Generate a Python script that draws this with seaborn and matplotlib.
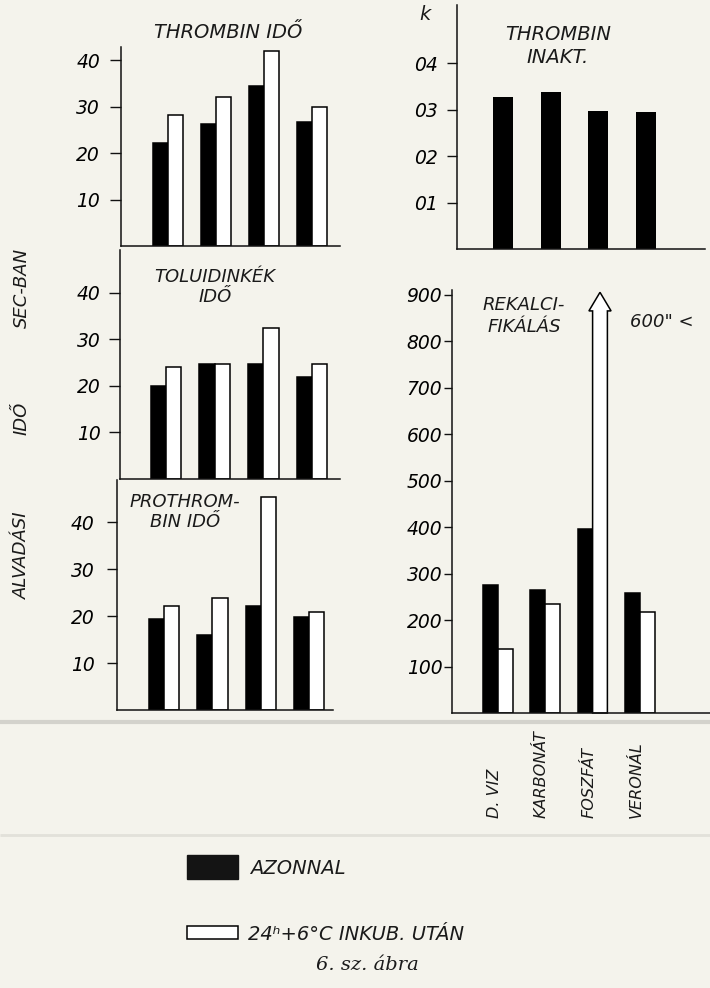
import numpy as np
import pandas as pd
import seaborn as sns
import matplotlib.pyplot as plt
from matplotlib.patches import Rectangle, FancyArrow

# csoportok (a rekalcifikalas panel alatt)
csoportok = ["D. VIZ", "KARBONÁT", "FOSZFÁT", "VERONÁL"]
AZ = "AZONNAL"
UT = "24ʰ+6°C INKUB. UTÁN"

# leolvasott ertekek
thrombin_azonnal = [22.2, 26.2, 34.4, 26.7]
thrombin_utan = [28.2, 32.0, 41.9, 29.9]
inakt_k = [0.327, 0.338, 0.297, 0.295]
toluidin_azonnal = [20.0, 24.7, 24.7, 21.9]
toluidin_utan = [24.1, 24.7, 32.5, 24.7]
prothrombin_azonnal = [19.3, 16.0, 22.2, 19.8]
prothrombin_utan = [22.2, 23.9, 45.4, 20.8]
rekalc_azonnal = [275, 265, 395, 258]
rekalc_utan = [138, 235, 905, 218]   # FOSZFAT: 600" < , nyillal jelolve

ido_ticks = [10, 20, 30, 40]
k_ticks = [0.1, 0.2, 0.3, 0.4]
k_labels = ["01", "02", "03", "04"]
rekalc_ticks = [100, 200, 300, 400, 500, 600, 700, 800, 900]

plt.rcParams['font.family'] = ['DejaVu Sans']
plt.rcParams['font.style'] = 'oblique'
plt.rcParams['text.color'] = '#1a1a1a'

W, H = 710, 988
BG = '#f4f3ec'
fig = plt.figure(figsize=(W / 100, H / 100), dpi=100, facecolor=BG)

ann = fig.add_axes([0, 0, 1, 1])
ann.set_xlim(0, W)
ann.set_ylim(H, 0)
ann.axis('off')


def px_axes(left, top, right, bottom):
    return fig.add_axes([left / W, 1 - bottom / H, (right - left) / W, (bottom - top) / H])


def long_df(a, b):
    return pd.DataFrame({"csoport": csoportok * 2,
                         "minta": [AZ] * 4 + [UT] * 4,
                         "ertek": a + b})


def bar_pair(ax, a, b):
    sns.barplot(data=long_df(a, b), x="csoport", y="ertek", hue="minta",
                order=csoportok, hue_order=[AZ, UT],
                palette={AZ: "black", UT: "white"}, saturation=1,
                width=0.625, edgecolor="black", linewidth=1.1,
                errorbar=None, legend=False, ax=ax)


def style(ax, xlim, ylim, ticks, labels, ticklen, pad):
    ax.set_facecolor('none')
    ax.set_xlim(xlim)
    ax.set_ylim(ylim)
    ax.set_xticks([])
    ax.set_yticks(ticks, labels)
    ax.set_xlabel("")
    ax.set_ylabel("")
    for s in ["top", "right"]:
        ax.spines[s].set_visible(False)
    for s in ["left", "bottom"]:
        ax.spines[s].set_linewidth(1.1)
        ax.spines[s].set_color('#111111')
    ax.tick_params(axis='y', length=ticklen, width=1.0, pad=pad,
                   labelsize=13.5, color='#111111')


# THROMBIN IDO
ax1 = px_axes(121, 47, 340, 246)
bar_pair(ax1, thrombin_azonnal, thrombin_utan)
style(ax1, (-0.98, 3.58), (0, 42.8), ido_ticks, [str(t) for t in ido_ticks], 8, 7)

# THROMBIN INAKT.
ax2 = px_axes(457, 5, 705, 249)
sns.barplot(x=csoportok, y=inakt_k, color="black", saturation=1, width=0.42,
            errorbar=None, ax=ax2)
style(ax2, (-0.97, 4.25), (0, 0.525), k_ticks, k_labels, 7, 7)

# TOLUIDINKEK IDO
ax3 = px_axes(120, 250, 340, 479)
bar_pair(ax3, toluidin_azonnal, toluidin_utan)
style(ax3, (-0.94, 3.57), (0, 49.2), ido_ticks, [str(t) for t in ido_ticks], 8, 6)

# PROTHROMBIN IDO
ax4 = px_axes(117, 480, 333, 710)
bar_pair(ax4, prothrombin_azonnal, prothrombin_utan)
style(ax4, (-0.98, 3.5), (0, 49), ido_ticks, [str(t) for t in ido_ticks], 7, 9)

# REKALCIFIKALAS
ax5 = px_axes(452, 290, 710, 713)
bar_pair(ax5, rekalc_azonnal, rekalc_utan)
style(ax5, (-0.97, 4.48), (0, 910), rekalc_ticks, [str(t) for t in rekalc_ticks], 6, 1)

# FOSZFAT utani ertek: nyil a bar helyett
top = max(rekalc_utan)
for p in list(ax5.patches):
    if abs(p.get_height() - top) < 1e-6:
        cx = p.get_x() + p.get_width() / 2
        w = p.get_width()
        p.remove()
        ax5.add_patch(FancyArrow(cx, 0, 0, top, width=w, head_width=w * 1.5,
                                 head_length=40, length_includes_head=True,
                                 fc='white', ec='black', lw=1.1, clip_on=False))

tr = ax5.get_xaxis_transform()
for i, c in enumerate(csoportok):
    ax5.text(i - 0.08, -0.248, c, transform=tr, rotation=90, ha='center',
             va='bottom', fontsize=11.5)

# feliratok
ann.text(228, 32, "THROMBIN IDŐ", ha='center', va='center', fontsize=14)
ann.text(558, 46, "THROMBIN\nINAKT.", ha='center', va='center', fontsize=14,
         linespacing=1.25)
ann.text(425, 15, "k", ha='center', va='center', fontsize=14)
ann.text(215, 287, "TOLUIDINKÉK\nIDŐ", ha='center', va='center', fontsize=13,
         linespacing=1.2)
ann.text(185, 512, "PROTHROM-\nBIN IDŐ", ha='center', va='center', fontsize=13,
         linespacing=1.2)
ann.text(524, 316, "REKALCI-\nFIKÁLÁS", ha='center', va='center', fontsize=13,
         linespacing=1.3)
ann.text(662, 322, '600" <', ha='center', va='center', fontsize=13)

ann.text(22, 288, "SEC-BAN", rotation=90, ha='center', va='center', fontsize=13)
ann.text(22, 418, "IDŐ", rotation=90, ha='center', va='center', fontsize=13)
ann.text(22, 555, "ALVADÁSI", rotation=90, ha='center', va='center', fontsize=13)

# lap szele (szkennelt)
ann.plot([0, W], [722, 722], color='#d3d2cc', lw=3, solid_capstyle='butt')
ann.plot([0, W], [835, 835], color='#e2e1da', lw=2, solid_capstyle='butt')

# jelmagyarazat
ann.add_patch(Rectangle((187, 855), 51, 24, fc='#141414', ec='#141414'))
ann.text(250, 868, AZ, ha='left', va='center', fontsize=14)
ann.add_patch(Rectangle((187, 926), 51, 13, fc='white', ec='black', lw=1.1))
ann.text(248, 934, UT, ha='left', va='center', fontsize=14)
ann.text(367, 965, "6. sz. ábra", ha='center', va='center', fontsize=14,
         family='DejaVu Serif', style='italic')

fig.savefig("out.png", dpi=100, facecolor=BG)
